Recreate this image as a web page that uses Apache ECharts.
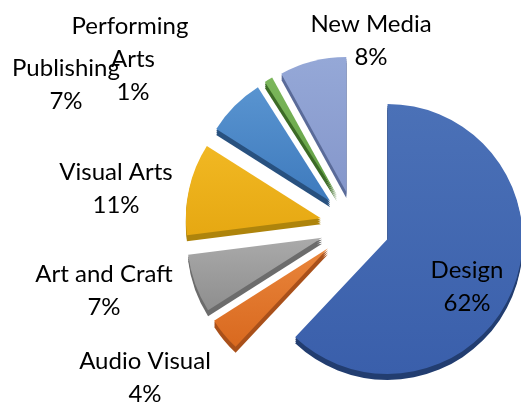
<!DOCTYPE html>
<html>
<head>
<meta charset="utf-8">
<script src="https://cdn.jsdelivr.net/npm/echarts@6/dist/echarts.min.js"></script>
<style>
  html, body { margin: 0; padding: 0; background: #ffffff; }
  #chart { width: 521px; height: 403px; }
</style>
</head>
<body>
<div id="chart"></div>
<script>
// Share of creative-industry firms by sub-sector (%)
const categories = ['Design', 'Audio Visual', 'Art and Craft', 'Visual Arts', 'Publishing', 'Performing Arts', 'New Media'];
const shares = [62, 4, 7, 11, 7, 1, 8];

// Top face gradient (light -> dark) and the colour of the extruded side
const faceLight = ['#4b71b7', '#e9853b', '#aaaaaa', '#f1b823', '#5994d0', '#7cb75c', '#95a8d7'];
const faceDark  = ['#3a5fab', '#d9691f', '#8e8e8e', '#e6a812', '#3e7abd', '#5e9c40', '#8597cb'];
const sideColors = ['#223d70', '#a9501a', '#6c6c6c', '#ae840c', '#28517f', '#3c6b26', '#5a6b99'];

// Centre of each label block
const labelSpots = [[467, 287], [145, 378], [104, 291], [116, 189], [66, 85], [133, 59], [371, 41]];

const PIE_CENTER = [355, 226];
const PIE_RADIUS = 135;
const EXPLODE = 35;
const DEPTH_STEPS = [2, 4, 6];

const chart = echarts.init(document.getElementById('chart'), null, { renderer: 'canvas' });

function faceColor(i) {
  return {
    type: 'linear', x: 0, y: 0, x2: 0, y2: 1,
    colorStops: [{ offset: 0, color: faceLight[i] }, { offset: 1, color: faceDark[i] }]
  };
}

function explodedPie(center, z, colorOf) {
  return {
    type: 'pie',
    silent: true,
    z: z,
    center: center,
    radius: PIE_RADIUS,
    startAngle: 90,
    clockwise: true,
    selectedMode: 'multiple',
    selectedOffset: EXPLODE,
    label: { show: false },
    labelLine: { show: false },
    emphasis: { disabled: true },
    animation: false,
    data: categories.map(function (c, i) {
      return { name: c, value: shares[i], selected: true, itemStyle: { color: colorOf(i) } };
    })
  };
}

// Extruded side: copies of the pie pushed down a few pixels, drawn underneath
const sideSeries = DEPTH_STEPS.map(function (d) {
  return explodedPie([PIE_CENTER[0], PIE_CENTER[1] + d], 1, function (i) { return sideColors[i]; });
});

// Top faces of the slices
const faceSeries = explodedPie(PIE_CENTER, 2, faceColor);

// Category / percentage labels carried by an invisible copy of the pie
const labelSeries = {
  type: 'pie',
  silent: true,
  z: 3,
  center: PIE_CENTER,
  radius: PIE_RADIUS,
  startAngle: 90,
  clockwise: true,
  avoidLabelOverlap: false,
  emphasis: { disabled: true },
  animation: false,
  itemStyle: { color: 'rgba(0,0,0,0)' },
  label: {
    show: true,
    position: 'outside',
    formatter: '{b}\n{d}%',
    fontFamily: 'Lato',
    fontSize: 24,
    lineHeight: 33,
    color: '#000000',
    align: 'center'
  },
  labelLine: { show: false },
  labelLayout: function (p) {
    const s = labelSpots[p.dataIndex];
    return { x: s[0], y: s[1], align: 'center', verticalAlign: 'middle' };
  },
  data: categories.map(function (c, i) {
    const item = { name: c, value: shares[i] };
    if (c === 'Performing Arts') {
      item.label = { width: 130, overflow: 'break' };
    }
    return item;
  })
};

chart.setOption({
  backgroundColor: '#ffffff',
  animation: false,
  series: sideSeries.concat([faceSeries, labelSeries])
});
</script>
</body>
</html>
